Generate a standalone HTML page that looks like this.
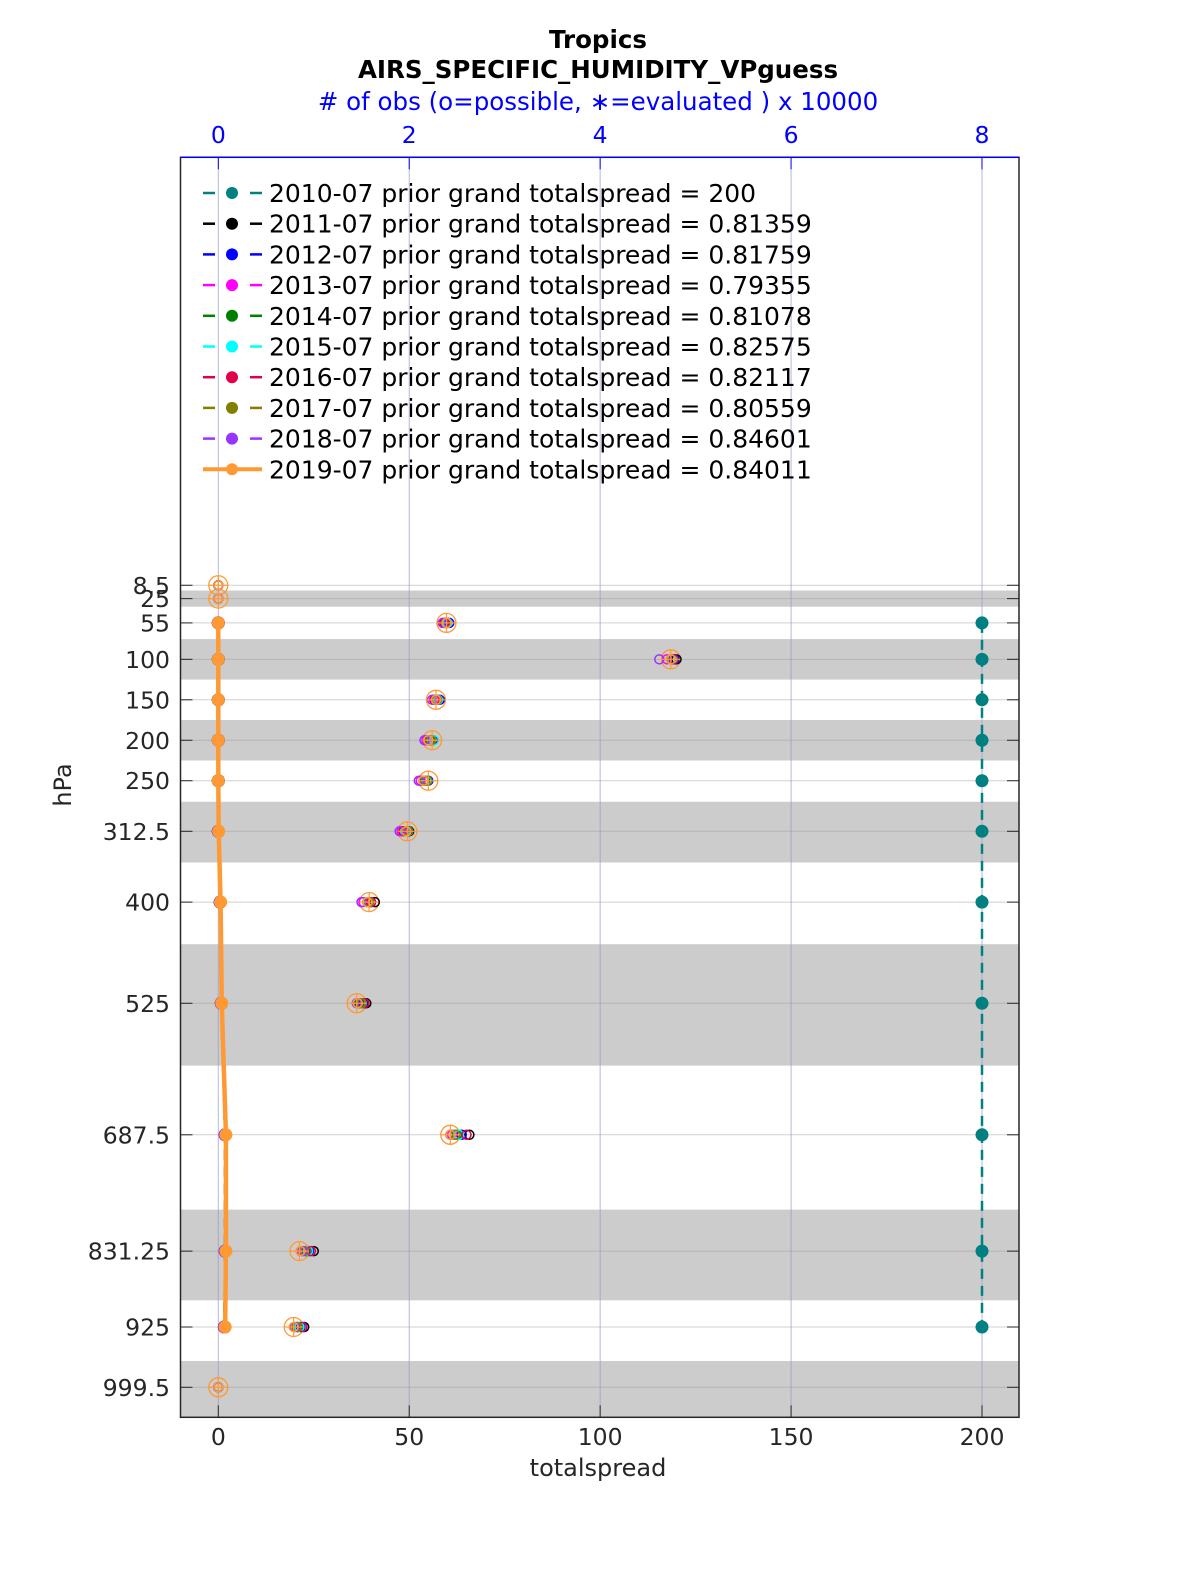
<!DOCTYPE html>
<html><head><meta charset="utf-8"><style>
html,body{margin:0;padding:0;background:#fff;overflow:hidden;width:1200px;height:1575px}
svg{display:block}
svg text{font-family:"DejaVu Sans","Liberation Sans",sans-serif}
</style></head><body>
<svg id="c" width="1200" height="1575" xmlns="http://www.w3.org/2000/svg">
<rect width="1200" height="1575" fill="#fff"/>
<text x="598" y="48" font-size="24.5" font-weight="bold" text-anchor="middle">Tropics</text>
<text x="598" y="78" font-size="24.5" font-weight="bold" text-anchor="middle">AIRS_SPECIFIC_HUMIDITY_VPguess</text>
<text x="598" y="110" font-size="24.5" fill="#0000ff" text-anchor="middle"># of obs (o=possible, ∗=evaluated ) x 10000</text>
<text x="598" y="1476" font-size="24" fill="#262626" text-anchor="middle">totalspread</text>
<text transform="translate(71,785) rotate(-90)" font-size="24" fill="#262626" text-anchor="middle">hPa</text>
<g id="g"></g>
</svg>
<script>
const levels=[8.5,25,55,100,150,200,250,312.5,400,525,687.5,831.25,925,999.5];
const levelLabels=["8.5","25","55","100","150","200","250","312.5","400","525","687.5","831.25","925","999.5"];
const bandTop=[15,75,175,276,452,780,967];
const bandBot=[35,125,225,351,602,892,1040];
const xTicks=[0,50,100,150,200];
const topTicks=[0,2,4,6,8];
const possible=[0,0,2.39,4.74,2.28,2.24,2.2,1.98,1.58,1.45,2.43,0.85,0.79,0];
const years=["2010-07","2011-07","2012-07","2013-07","2014-07","2015-07","2016-07","2017-07","2018-07","2019-07"];
const colors=["#008080","#000000","#0000ff","#ff00ff","#008000","#00ffff","#e0004a","#808000","#9933ff","#ff9933"];
const grand=["200","0.81359","0.81759","0.79355","0.81078","0.82575","0.82117","0.80559","0.84601","0.84011"];
const evalObs=[
[null,null,null,null,null,null,null,null,null,null,null,null,null,null],
[0,0,2.4,4.8,2.3,2.22,2.17,2.0,1.64,1.55,2.63,1.0,0.9,0],
[0,0,2.42,4.78,2.32,2.25,2.2,1.98,1.6,1.52,2.55,0.95,0.86,0],
[0,0,2.36,4.7,2.26,2.18,2.12,1.92,1.52,1.47,2.45,0.92,0.83,0],
[0,0,2.38,4.75,2.28,2.22,2.16,1.96,1.56,1.48,2.5,0.93,0.84,0],
[0,0,2.4,4.76,2.3,2.26,2.18,1.95,1.57,1.5,2.52,0.94,0.85,0],
[0,0,2.37,4.77,2.27,2.2,2.15,1.94,1.6,1.53,2.6,0.97,0.88,0],
[0,0,2.39,4.74,2.29,2.23,2.19,1.99,1.58,1.5,2.48,0.9,0.82,0],
[0,0,2.35,4.62,2.24,2.16,2.1,1.9,1.5,1.45,2.43,0.88,0.8,0],
[0,0,2.39,4.74,2.28,2.2,2.15,1.97,1.56,1.46,2.43,0.86,0.79,0]];
const spread=[
[null,null,200,200,200,200,200,200,200,200,200,200,200,null],
[null,null,0,0,0,0,0,0,0.5,0.8,1.8,1.8,1.6,null],
[null,null,0,0,0,0,0,0,0.5,0.8,1.8,1.8,1.6,null],
[null,null,0,0,0,0,0,0,0.5,0.8,1.8,1.8,1.6,null],
[null,null,0,0,0,0,0,0,0.5,0.8,1.8,1.8,1.6,null],
[null,null,0,0,0,0,0,0,0.5,0.8,1.8,1.8,1.6,null],
[null,null,0,0,0,0,0,0,0.5,0.8,1.8,1.8,1.6,null],
[null,null,0,0,0,0,0,0,0.5,0.8,1.8,1.8,1.6,null],
[null,null,0,0,0,0,0,0,0.5,0.8,1.8,1.8,1.6,null],
[null,null,0,0,0,0,0,0.1,0.6,0.9,2,2,1.8,null]];
const L=180.5,R=1019,T=157.3,B=1417.3;
const xs=v=>218.3+v*3.8185;
const xo=v=>218.3+v*95.46;
const ys=p=>578.4+p*0.8093;
const g=document.getElementById('g');
const NS="http://www.w3.org/2000/svg";
function mk(t,a,p){const e=document.createElementNS(NS,t);for(const k in a)e.setAttribute(k,a[k]);(p||g).appendChild(e);return e;}
for(let i=0;i<bandTop.length;i++){
 const r=mk('rect',{x:L,y:ys(bandTop[i]),width:R-L,height:Math.min(B,ys(bandBot[i]))-ys(bandTop[i]),fill:'#cccccc'});
 
 
}
levels.forEach((p,i)=>{
 const l=mk('line',{x1:L,x2:R,y1:ys(p),y2:ys(p),stroke:'#999',"stroke-opacity":0.45,"stroke-width":1});
 
 
 mk('line',{x1:L,x2:L+12,y1:ys(p),y2:ys(p),stroke:'#262626'});
 mk('line',{x1:R-12,x2:R,y1:ys(p),y2:ys(p),stroke:'#262626'});
 const t=mk('text',{x:170,y:ys(p)+8.5,"font-size":23.5,fill:'#262626',"text-anchor":'end'});
 t.textContent=levelLabels[i];
 
 
});
xTicks.forEach(v=>{
 const l=mk('line',{x1:xs(v),x2:xs(v),y1:T,y2:B,stroke:'#9999cc',"stroke-opacity":0.7});
 
 
 mk('line',{x1:xs(v),x2:xs(v),y1:B-12,y2:B,stroke:'#262626'});
 const t=mk('text',{x:xs(v),y:1445,"font-size":23.5,fill:'#262626',"text-anchor":'middle'});
 t.textContent=v;
 
 
});
topTicks.forEach(v=>{
 mk('line',{x1:xo(v),x2:xo(v),y1:T,y2:T+12,stroke:'#0000ff'});
 const t=mk('text',{x:xo(v),y:143,"font-size":23.5,fill:'#0000ff',"text-anchor":'middle'});
 t.textContent=v;
 
 
});
levels.forEach((p,i)=>{
 const c=mk('circle',{cx:xo(possible[i]),cy:ys(p),r:9.5,fill:'none',stroke:'#ff9933',"stroke-width":1.3});
 
 
});
years.forEach((y,k)=>{
 levels.forEach((p,i)=>{
  const v=evalObs[k][i]; if(v==null)return;
  const c=mk('circle',{cx:xo(v),cy:ys(p),r:4.5,fill:'none',stroke:colors[k],"stroke-width":1.5});
  
  
 });
});
levels.forEach((p,i)=>{
 const x=xo(possible[i]),y=ys(p);
 mk('path',{d:`M${x-9.5} ${y}H${x+9.5}M${x} ${y-9.5}V${y+9.5}`,stroke:'#ff9933',"stroke-width":1.2});
});
years.forEach((y,k)=>{
 let d='';let pen=false;
 levels.forEach((p,i)=>{const v=spread[k][i];if(v==null){pen=false;return;}d+=(pen?'L':'M')+xs(v)+' '+ys(p);pen=true;});
 const last=k==9;
 const pth=mk('path',{d:d,fill:'none',stroke:colors[k],"stroke-width":last?4.5:2.5,"stroke-dasharray":last?'none':'10 7'});
 
 
 levels.forEach((p,i)=>{const v=spread[k][i];if(v==null)return;
  const c=mk('circle',{cx:xs(v),cy:ys(p),r:6.5,fill:colors[k]});
  
  
 });
});
mk('rect',{x:L,y:T,width:R-L,height:B-T,fill:'none',stroke:'#262626',"stroke-width":1.5});
mk('line',{x1:L,x2:R,y1:T,y2:T,stroke:'#0000ff',"stroke-width":1.5});
years.forEach((y,k)=>{
 const yy=193+k*30.7;const last=k==9;
 const gg=mk('g',{});
 
 
 if(last){mk('line',{x1:203,x2:262,y1:yy,y2:yy,stroke:colors[k],"stroke-width":4},gg);}
 else{mk('line',{x1:203,x2:215,y1:yy,y2:yy,stroke:colors[k],"stroke-width":2.5},gg);mk('line',{x1:250,x2:262,y1:yy,y2:yy,stroke:colors[k],"stroke-width":2.5},gg);}
 mk('circle',{cx:232,cy:yy,r:6,fill:colors[k]},gg);
 const t=mk('text',{x:269,y:yy+9,"font-size":25,fill:'#000'},gg);
 t.textContent=y+' prior grand totalspread = '+grand[k];
});
</script>
</body></html>
